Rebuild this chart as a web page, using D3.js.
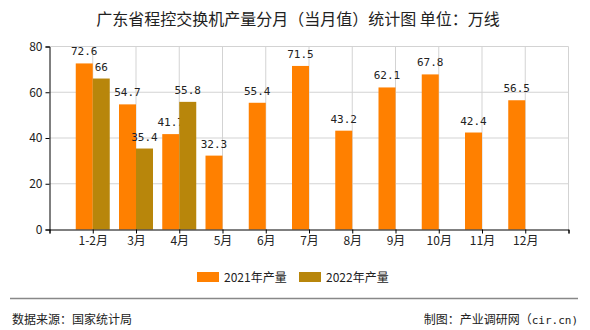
<!DOCTYPE html>
<html><head><meta charset="utf-8">
<script src="https://cdn.jsdelivr.net/npm/d3@7"></script>
<style>body{margin:0;background:#fff;} svg{display:block;}</style>
</head><body><svg id="c" width="590" height="330"></svg>
<script>
const categories = ["1-2月","3月","4月","5月","6月","7月","8月","9月","10月","11月","12月"];
const series2021 = [72.6,54.7,41.7,32.3,55.4,71.5,43.2,62.1,67.8,42.4,56.5];
const series2022 = [66,35.4,55.8,null,null,null,null,null,null,null,null];
const seriesNames = ["2021年产量","2022年产量"];
const colors = ["#FF8000","#B8860B"];
const yTicks = [0,20,40,60,80];
const title = "广东省程控交换机产量分月（当月值）统计图 单位：万线";
const source = "数据来源：国家统计局";
const creditCJK = "制图：产业调研网（";
const creditLatin = "cir.cn)";

const svg = d3.select("#c");
const font = "'Noto Sans CJK SC','Liberation Sans',sans-serif";
const mono = "'DejaVu Sans Mono','Liberation Mono',monospace";
const L = 49.5, R = 568.5, T = 46.5, B = 229.5;

const x = d3.scaleLinear().domain([0, categories.length + 1]).range([L, R]);
const y = d3.scaleLinear().domain([0, 80]).range([B, T]);
const barW = 17;

// gridlines
const g = svg.append("g");
g.selectAll("line.h").data(yTicks.filter(d=>d>0)).join("line")
  .attr("x1", L).attr("x2", R).attr("y1", d=>y(d)).attr("y2", d=>y(d))
  .attr("stroke", "#d3d3d3").attr("stroke-width", 1);
g.selectAll("line.v").data(d3.range(1, categories.length + 2)).join("line")
  .attr("x1", d=>x(d)).attr("x2", d=>x(d)).attr("y1", T).attr("y2", B)
  .attr("stroke", "#d3d3d3").attr("stroke-width", 1);

// bars
const data = categories.map((c,i)=>({c, i, v:[series2021[i], series2022[i]]}));
[0,1].forEach(s=>{
  const arr = data.filter(d=>d.v[s] != null);
  svg.append("g").selectAll("rect").data(arr).join("rect")
    .attr("x", d=> s===0 ? x(d.i+1) - barW : x(d.i+1))
    .attr("width", barW)
    .attr("y", d=>y(d.v[s]))
    .attr("height", d=>B - y(d.v[s]))
    .attr("fill", colors[s]);
  svg.append("g").selectAll("text").data(arr).join("text")
    .attr("x", d=> s===0 ? x(d.i+1) - barW/2 : x(d.i+1) + barW/2)
    .attr("y", d=>y(d.v[s]) - 8)
    .attr("text-anchor","middle")
    .attr("font-family", mono).attr("font-size", 11).attr("fill","#222")
    .text(d=>d.v[s]);
});

// axes
const yAxis = d3.axisLeft(y).tickValues(yTicks).tickSize(4).tickPadding(3);
const ya = svg.append("g").attr("transform",`translate(${L},0)`).call(yAxis);
ya.select(".domain").attr("stroke","#000");
ya.selectAll("text").attr("font-family", font).attr("font-size", 12).attr("fill","#222");

const xAxis = d3.axisBottom(x).tickValues(d3.range(0, categories.length + 2)).tickSize(4).tickFormat(d=> (d>=1 && d<=categories.length) ? categories[d-1] : "").tickPadding(3);
const xa = svg.append("g").attr("transform",`translate(0,${B})`).call(xAxis);
xa.select(".domain").attr("stroke","#000");
xa.selectAll("text").attr("font-family", font).attr("font-size", 12).attr("fill","#222");

// title
svg.append("text").attr("x", 298).attr("y", 25).attr("text-anchor","middle")
  .attr("font-family", font).attr("font-size", 16).attr("fill","#222").text(title);

// legend
const legX = [197, 299];
seriesNames.forEach((n,i)=>{
  svg.append("rect").attr("x", legX[i]).attr("y", 272).attr("width", 22).attr("height", 10).attr("fill", colors[i]);
  svg.append("text").attr("x", legX[i] + 27).attr("y", 281.5)
    .attr("font-family", font).attr("font-size", 12).attr("fill","#222").text(n);
});

// footer
svg.append("line").attr("x1", 10).attr("x2", 578).attr("y1", 298.5).attr("y2", 298.5).attr("stroke","#888").attr("stroke-width",1.5);
svg.append("text").attr("x", 12).attr("y", 324).attr("font-family", font).attr("font-size", 12).attr("fill","#222").text(source);
const cr = svg.append("text").attr("x", 578).attr("y", 324).attr("text-anchor","end").attr("font-family", font).attr("font-size", 12).attr("fill","#222");
cr.append("tspan").text(creditCJK);
cr.append("tspan").attr("font-family", mono).attr("font-size", 11).text(creditLatin);
</script></body></html>
